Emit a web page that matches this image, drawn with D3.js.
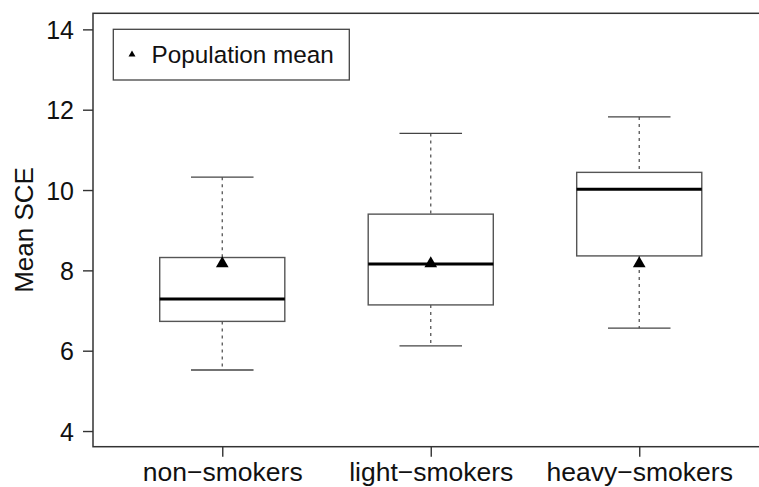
<!DOCTYPE html>
<html>
<head>
<meta charset="utf-8">
<script src="https://cdn.jsdelivr.net/npm/d3@7"></script>
<style>
  html, body { margin: 0; padding: 0; background: #fff; }
  svg { display: block; font-family: "Liberation Sans", Arial, Helvetica, sans-serif; }
</style>
</head>
<body>
<svg id="chart" width="759" height="487"></svg>
<script>
// Groups and their box statistics (Mean SCE)
const groups = ["non\u2212smokers", "light\u2212smokers", "heavy\u2212smokers"];
const whiskerLow = [5.52, 6.12, 6.56];
const quartile1 = [6.73, 7.14, 8.36];
const medians = [7.29, 8.16, 10.02];
const quartile3 = [8.32, 9.40, 10.44];
const whiskerHigh = [10.32, 11.41, 11.82];
const populationMean = 8.17;
const yTicks = [4, 6, 8, 10, 12, 14];
const yTitle = "Mean SCE";
const legendLabel = "Population mean";

const svg = d3.select("#chart");

const x = d3.scaleLinear().domain([0.38, 3.62]).range([93, 768.5]);
const y = d3.scaleLinear().domain([3.61, 14.40]).range([446.7, 13.3]);

const boxHalf = 0.3;      // half box width in group units
const capHalf = 0.15;     // half whisker cap width

const rows = groups.map((g, i) => ({
  name: g, pos: i + 1,
  lo: whiskerLow[i], q1: quartile1[i], med: medians[i],
  q3: quartile3[i], hi: whiskerHigh[i]
}));

// Plot frame (open on the right where it runs past the canvas)
svg.append("rect")
  .attr("x", x(0.38)).attr("y", y(14.40))
  .attr("width", x(3.62) - x(0.38)).attr("height", y(3.61) - y(14.40))
  .attr("fill", "none").attr("stroke", "#333").attr("stroke-width", 1.5);

// Y axis
const yAxis = d3.axisLeft(y).tickValues(yTicks).tickSize(10).tickPadding(9).tickFormat(d3.format("d"));
const gy = svg.append("g").attr("transform", `translate(${x(0.38)},0)`).call(yAxis);
gy.select(".domain").remove();
gy.selectAll(".tick line").attr("stroke", "#333").attr("stroke-width", 1.4);
gy.selectAll(".tick text")
  .attr("fill", "#111").style("font-size", "25px")
  .attr("dy", "0.36em");

// X axis
const xAxis = d3.axisBottom(x).tickValues(rows.map(r => r.pos)).tickSize(10)
  .tickFormat((d, i) => groups[i]);
const gx = svg.append("g").attr("transform", `translate(0,${y(3.61)})`).call(xAxis);
gx.select(".domain").remove();
gx.selectAll(".tick line").attr("stroke", "#333").attr("stroke-width", 1.4);
gx.selectAll(".tick text")
  .attr("fill", "#111").style("font-size", "26.5px")
  .attr("y", 0).attr("dy", 0)
  .attr("transform", "translate(0,34.3)");

// Y title
svg.append("text")
  .attr("transform", `translate(33,${(y(3.61) + y(14.40)) / 2}) rotate(-90)`)
  .attr("text-anchor", "middle")
  .attr("fill", "#111").style("font-size", "26px")
  .text(yTitle);

// Boxes
const g = svg.append("g");
const box = g.selectAll("g.box").data(rows).join("g").attr("class", "box");

// dashed whiskers
box.append("line")
  .attr("x1", d => x(d.pos)).attr("x2", d => x(d.pos))
  .attr("y1", d => y(d.hi)).attr("y2", d => y(d.q3))
  .attr("stroke", "#555").attr("stroke-width", 1.3).attr("stroke-dasharray", "3,4");
box.append("line")
  .attr("x1", d => x(d.pos)).attr("x2", d => x(d.pos))
  .attr("y1", d => y(d.q1)).attr("y2", d => y(d.lo))
  .attr("stroke", "#555").attr("stroke-width", 1.3).attr("stroke-dasharray", "3,4");

// whisker caps
["hi", "lo"].forEach(k => {
  box.append("line")
    .attr("x1", d => x(d.pos - capHalf)).attr("x2", d => x(d.pos + capHalf))
    .attr("y1", d => y(d[k])).attr("y2", d => y(d[k]))
    .attr("stroke", "#444").attr("stroke-width", 1.3);
});

// interquartile box
box.append("rect")
  .attr("x", d => x(d.pos - boxHalf)).attr("y", d => y(d.q3))
  .attr("width", d => x(d.pos + boxHalf) - x(d.pos - boxHalf))
  .attr("height", d => y(d.q1) - y(d.q3))
  .attr("fill", "#fff").attr("stroke", "#555").attr("stroke-width", 1.4);

// median
box.append("line")
  .attr("x1", d => x(d.pos - boxHalf)).attr("x2", d => x(d.pos + boxHalf))
  .attr("y1", d => y(d.med)).attr("y2", d => y(d.med))
  .attr("stroke", "#000").attr("stroke-width", 3);

// population mean markers
const tri = d3.symbol().type(d3.symbolTriangle);
box.append("path")
  .attr("d", tri.size(70)())
  .attr("transform", d => `translate(${x(d.pos)},${y(populationMean)})`)
  .attr("fill", "#000");

// Legend
const legend = svg.append("g");
legend.append("rect")
  .attr("x", 113.3).attr("y", 29.3).attr("width", 236).attr("height", 50.7)
  .attr("fill", "#fff").attr("stroke", "#444").attr("stroke-width", 1.3);
legend.append("path")
  .attr("d", tri.size(21)())
  .attr("transform", "translate(132,54.5)")
  .attr("fill", "#000");
legend.append("text")
  .attr("x", 151.5).attr("y", 63.3)
  .attr("fill", "#111").style("font-size", "24.3px")
  .text(legendLabel);
</script>
</body>
</html>
